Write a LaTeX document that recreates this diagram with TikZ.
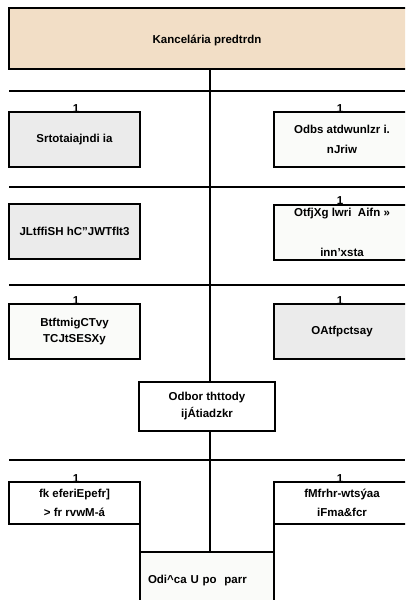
\documentclass[tikz,border=0pt]{standalone}
\usepackage{fontspec}
\setmainfont{Liberation Sans}
\definecolor{peach}{HTML}{F2DEC6}
\definecolor{boxgray}{HTML}{EBEBEB}
\definecolor{boxwhite}{HTML}{FAFBF9}
\begin{document}
\begin{tikzpicture}[x=1pt,y=-1pt,
  txt/.style={font=\fontsize{11.5}{17}\selectfont\bfseries},
  orgbox/.style={draw=black, line width=2pt, rectangle, inner sep=0pt, outer sep=0pt, txt, align=center},
  gbox/.style={orgbox, fill=boxgray},
  wbox/.style={orgbox, fill=boxwhite},
  sidebox/.style={minimum width=131pt, minimum height=55pt},
  rsidebox/.style={minimum width=136pt, minimum height=55pt},
  one/.style={txt, inner sep=0pt, anchor=south},
  rule/.style={line width=2pt}
]
\useasboundingbox (0,0) rectangle (405,600);
\clip (0,0) rectangle (405,600);
\fill[white] (0,0) rectangle (405,600);

% top box
\node[orgbox, fill=peach, minimum width=401pt, minimum height=61pt] (top) at (209.5,38.5) {};
\node[txt] (toptxt) at (207,40) {Kancelária predtrdn};

% horizontal rules
\coordinate (h1l) at (9,91);  \coordinate (h1r) at (405,91);
\coordinate (h2l) at (9,187); \coordinate (h2r) at (405,187);
\coordinate (h3l) at (9,285); \coordinate (h3r) at (405,285);
\coordinate (h4l) at (9,460); \coordinate (h4r) at (405,460);
\draw[rule] (h1l) -- (h1r);
\draw[rule] (h2l) -- (h2r);
\draw[rule] (h3l) -- (h3r);
\draw[rule] (h4l) -- (h4r);

% bottom center box
\node[wbox, minimum width=134pt, minimum height=58pt, text width=118pt, align=left, anchor=north west] (bot) at (140,552) {Odi\^{}ca U po\ \ parr};

% central spine
\draw[rule] (top.south) -- (top.south |- bot.north);

% row 1
\node[gbox, sidebox] (r1l) at (74.5,139.5) {Srtotaiajndi ia};
\node[wbox, rsidebox, font=\fontsize{11.5}{20}\selectfont\bfseries] (r1r) at (342,139.5) {Odbs atdwunlzr i.\\nJriw};
\node[one] (o1l) at (76,113) {1};
\node[one] (o1r) at (340,113) {1};

% row 2
\node[gbox, sidebox] (r2l) at (74.5,231.5) {JLtffiSH hC"JWTflt3};
\node[wbox, rsidebox, font=\fontsize{11.5}{40}\selectfont\bfseries] (r2r) at (342,232.5) {OtfjXg lwri \ Aifn »\\inn'xsta};
\node[one] (o2r) at (340,204.5) {1};

% row 3
\node[wbox, sidebox, font=\fontsize{11.5}{16.5}\selectfont\bfseries] (r3l) at (74.5,331.5) {BtftmigCTvy\\TCJtSESXy};
\node[gbox, rsidebox] (r3r) at (342,331.5) {OAtfpctsay};
\node[one] (o3l) at (76,305) {1};
\node[one] (o3r) at (340,305) {1};

% central box
\node[wbox, fill=white, minimum width=136pt, minimum height=49pt] (mid) at (207,406.5) {Odbor thttody\\ijÁtiadzkr};

% row 4
\node[wbox, fill=white, minimum width=131pt, minimum height=42pt, font=\fontsize{11.5}{18.5}\selectfont\bfseries] (r4l) at (74.5,503) {fk eferiEpefr]\\> fr rvwM-á};
\node[wbox, fill=white, minimum width=136pt, minimum height=42pt, font=\fontsize{11.5}{19}\selectfont\bfseries] (r4r) at (342,503) {fMfrhr-wtsýaa\\iFma\&fcr};
\node[one] (o4l) at (76,483) {1};
\node[one] (o4r) at (340,483) {1};

% links to bottom box
\draw[rule] (r4l.south east) -- (bot.north west);
\draw[rule] (r4r.south west) -- (bot.north east);
\end{tikzpicture}
\end{document}
